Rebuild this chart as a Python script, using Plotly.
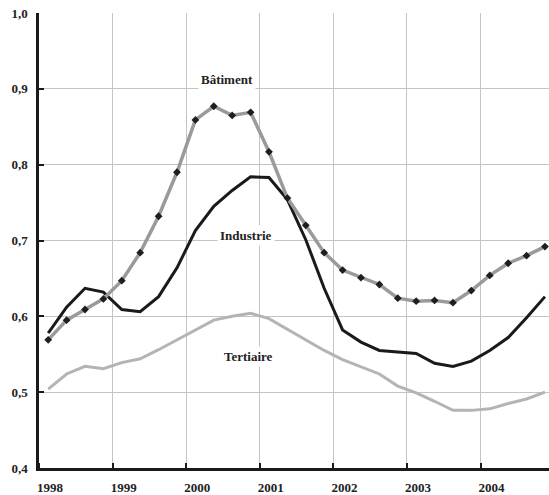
import plotly.graph_objects as go

# Quarterly data 1998Q1 .. 2004Q4 (plotted at mid-quarter)
years = [1998, 1999, 2000, 2001, 2002, 2003, 2004]
quarters = [y + (q + 0.5) / 4 for y in years for q in range(4)]

batiment = [0.569, 0.595, 0.609, 0.623, 0.647, 0.684, 0.732, 0.790,
            0.859, 0.877, 0.865, 0.869, 0.817, 0.756, 0.720, 0.684,
            0.661, 0.651, 0.642, 0.624, 0.620, 0.621, 0.618, 0.634,
            0.654, 0.670, 0.680, 0.692]
industrie = [0.578, 0.612, 0.637, 0.632, 0.609, 0.606, 0.626, 0.664,
             0.713, 0.745, 0.766, 0.784, 0.783, 0.754, 0.701, 0.637,
             0.582, 0.566, 0.555, 0.553, 0.551, 0.538, 0.534, 0.541,
             0.555, 0.572, 0.598, 0.626]
tertiaire = [0.504, 0.524, 0.534, 0.531, 0.539, 0.544, 0.556, 0.569,
             0.582, 0.595, 0.600, 0.604, 0.597, 0.583, 0.570, 0.555,
             0.543, 0.534, 0.524, 0.508, 0.499, 0.488, 0.476, 0.476,
             0.478, 0.485, 0.491, 0.500]

year_labels = [str(y) for y in years]
label_names = ["Bâtiment", "Industrie", "Tertiaire"]
label_x = [2000.55, 2000.81, 2000.84]
label_y = [0.912, 0.706, 0.547]

fig = go.Figure()
fig.add_trace(go.Scatter(x=quarters, y=tertiaire, mode="lines",
                         line=dict(color="#b4b4b4", width=3), name="Tertiaire"))
fig.add_trace(go.Scatter(x=quarters, y=industrie, mode="lines",
                         line=dict(color="#1a1a1a", width=3), name="Industrie"))
fig.add_trace(go.Scatter(x=quarters, y=batiment, mode="lines+markers",
                         line=dict(color="#9a9a9a", width=3.5),
                         marker=dict(symbol="diamond", size=6, color="#1e1e1e"),
                         name="Bâtiment"))

for name, lx, ly in zip(label_names, label_x, label_y):
    fig.add_annotation(x=lx, y=ly, text="<b>" + name + "</b>", showarrow=False,
                       font=dict(family="Liberation Serif", size=13, color="#222"),
                       bgcolor="white", borderpad=2)

fig.update_layout(
    width=549, height=495,
    margin=dict(l=39, r=0, t=13, b=27, autoexpand=False),
    plot_bgcolor="white", paper_bgcolor="white",
    showlegend=False,
    separators=", ",
    font=dict(family="Liberation Serif", size=13, color="#222"),
)
fig.update_xaxes(
    range=[1998, 2004.93], automargin=False,
    tickvals=[y + 0.15 for y in years], ticktext=["<b>" + t + "</b>" for t in year_labels],
    ticks="", showgrid=False, zeroline=False,
    showline=True, linecolor="#1a1a1a", linewidth=2.5,
    ticklabelstandoff=6,
    minor=dict(tick0=1998, dtick=1, showgrid=True, gridcolor="#c4c4c4", gridwidth=1.2,
               ticks="inside", ticklen=5, tickcolor="#1a1a1a", tickwidth=2),
)
fig.update_yaxes(
    range=[0.4, 1.0], dtick=0.1, tick0=0.4, tickformat=".1f", automargin=False,
    ticks="inside", ticklen=5, tickcolor="#1a1a1a", tickwidth=2,
    showgrid=True, gridcolor="#c4c4c4", gridwidth=1.2, zeroline=False,
    showline=True, linecolor="#1a1a1a", linewidth=2.5,
    tickprefix="<b>", ticksuffix="</b>",
    ticklabelstandoff=6,
)

fig.write_html("out.html", config={"displayModeBar": False},
               post_script="document.body.style.margin='0';document.body.style.overflow='hidden';")
